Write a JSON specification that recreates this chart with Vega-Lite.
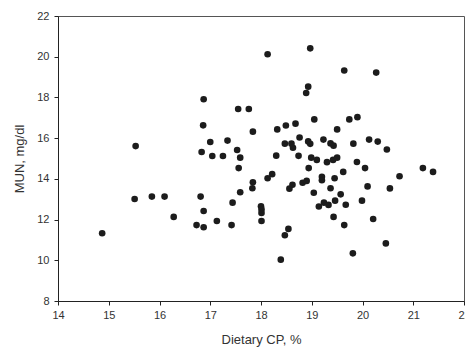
{
  "$schema": "https://vega.github.io/schema/vega-lite/v6.json",
  "width": 406,
  "height": 285,
  "autosize": {"type": "none"},
  "padding": {"left": 58, "top": 16, "right": 1, "bottom": 48},
  "background": "white",
  "config": {
    "view": {"stroke": "#555555", "strokeWidth": 1},
    "axis": {
      "labelFont": "Liberation Sans",
      "titleFont": "Liberation Sans",
      "labelFontSize": 11,
      "titleFontSize": 13,
      "labelColor": "#333333",
      "titleColor": "#333333",
      "titleFontWeight": "normal",
      "domainColor": "#222222",
      "tickColor": "#222222",
      "tickSize": 4,
      "grid": false
    }
  },
  "data": {
    "values": [
      {"cp": 14.87, "mun": 11.33}, {"cp": 15.51, "mun": 13.01}, {"cp": 15.53, "mun": 15.61},
      {"cp": 15.85, "mun": 13.13}, {"cp": 16.10, "mun": 13.13}, {"cp": 16.28, "mun": 12.13},
      {"cp": 16.73, "mun": 11.73}, {"cp": 16.81, "mun": 13.13}, {"cp": 16.87, "mun": 12.42},
      {"cp": 16.87, "mun": 11.62}, {"cp": 16.87, "mun": 17.91}, {"cp": 16.86, "mun": 16.63},
      {"cp": 16.83, "mun": 15.32}, {"cp": 17.00, "mun": 15.81}, {"cp": 17.04, "mun": 15.12},
      {"cp": 17.13, "mun": 11.93}, {"cp": 17.25, "mun": 15.12}, {"cp": 17.34, "mun": 15.88},
      {"cp": 17.42, "mun": 11.73}, {"cp": 17.44, "mun": 12.83}, {"cp": 17.55, "mun": 17.43},
      {"cp": 17.53, "mun": 15.42}, {"cp": 17.59, "mun": 15.04}, {"cp": 17.56, "mun": 14.53},
      {"cp": 17.59, "mun": 13.34}, {"cp": 17.76, "mun": 17.43}, {"cp": 17.84, "mun": 16.32},
      {"cp": 17.84, "mun": 13.83}, {"cp": 17.83, "mun": 13.54}, {"cp": 18.00, "mun": 12.65},
      {"cp": 18.01, "mun": 12.50}, {"cp": 18.01, "mun": 12.32}, {"cp": 18.01, "mun": 11.93},
      {"cp": 18.13, "mun": 14.03}, {"cp": 18.22, "mun": 14.23}, {"cp": 18.13, "mun": 20.12},
      {"cp": 18.30, "mun": 15.14}, {"cp": 18.32, "mun": 16.43}, {"cp": 18.39, "mun": 10.03},
      {"cp": 18.47, "mun": 11.23}, {"cp": 18.54, "mun": 11.54}, {"cp": 18.49, "mun": 16.62},
      {"cp": 18.47, "mun": 15.73}, {"cp": 18.60, "mun": 15.73}, {"cp": 18.63, "mun": 15.53},
      {"cp": 18.56, "mun": 13.52}, {"cp": 18.62, "mun": 13.71}, {"cp": 18.68, "mun": 16.71},
      {"cp": 18.74, "mun": 15.13}, {"cp": 18.76, "mun": 16.03}, {"cp": 18.82, "mun": 13.81},
      {"cp": 18.90, "mun": 13.90}, {"cp": 18.89, "mun": 18.22}, {"cp": 18.93, "mun": 18.53},
      {"cp": 18.97, "mun": 20.41}, {"cp": 18.93, "mun": 15.84}, {"cp": 18.97, "mun": 15.72},
      {"cp": 18.94, "mun": 14.53}, {"cp": 18.99, "mun": 15.04}, {"cp": 19.04, "mun": 13.32},
      {"cp": 19.05, "mun": 16.92}, {"cp": 19.10, "mun": 14.93}, {"cp": 19.14, "mun": 12.64},
      {"cp": 19.20, "mun": 14.10}, {"cp": 19.20, "mun": 13.93}, {"cp": 19.23, "mun": 15.93},
      {"cp": 19.24, "mun": 12.83}, {"cp": 19.30, "mun": 14.82}, {"cp": 19.33, "mun": 12.72},
      {"cp": 19.37, "mun": 15.74}, {"cp": 19.37, "mun": 13.54}, {"cp": 19.42, "mun": 14.93},
      {"cp": 19.43, "mun": 15.63}, {"cp": 19.43, "mun": 12.13}, {"cp": 19.45, "mun": 14.03},
      {"cp": 19.46, "mun": 12.93}, {"cp": 19.50, "mun": 15.04}, {"cp": 19.50, "mun": 16.43},
      {"cp": 19.57, "mun": 13.24}, {"cp": 19.62, "mun": 14.34}, {"cp": 19.64, "mun": 19.32},
      {"cp": 19.64, "mun": 11.73}, {"cp": 19.67, "mun": 12.73}, {"cp": 19.74, "mun": 16.92},
      {"cp": 19.81, "mun": 10.34}, {"cp": 19.82, "mun": 15.73}, {"cp": 19.89, "mun": 14.83},
      {"cp": 19.90, "mun": 17.03}, {"cp": 19.99, "mun": 12.93}, {"cp": 20.05, "mun": 14.53},
      {"cp": 20.10, "mun": 13.63}, {"cp": 20.13, "mun": 15.93}, {"cp": 20.21, "mun": 12.03},
      {"cp": 20.27, "mun": 19.22}, {"cp": 20.30, "mun": 15.83}, {"cp": 20.46, "mun": 10.83},
      {"cp": 20.48, "mun": 15.44}, {"cp": 20.54, "mun": 13.53}, {"cp": 20.73, "mun": 14.13},
      {"cp": 21.19, "mun": 14.53}, {"cp": 21.39, "mun": 14.34}
    ]
  },
  "mark": {"type": "circle", "size": 44, "color": "#1c1c1c", "opacity": 1},
  "encoding": {
    "x": {
      "field": "cp", "type": "quantitative",
      "scale": {"domain": [14, 22], "nice": false, "zero": false},
      "axis": {"title": "Dietary CP, %", "values": [14, 15, 16, 17, 18, 19, 20, 21, 22], "labelPadding": 4, "titlePadding": 13, "labelFlush": false}
    },
    "y": {
      "field": "mun", "type": "quantitative",
      "scale": {"domain": [8, 22], "nice": false, "zero": false},
      "axis": {"title": "MUN, mg/dl", "values": [8, 10, 12, 14, 16, 18, 20, 22], "labelPadding": 5, "titlePadding": 10, "labelFlush": false}
    }
  }
}
